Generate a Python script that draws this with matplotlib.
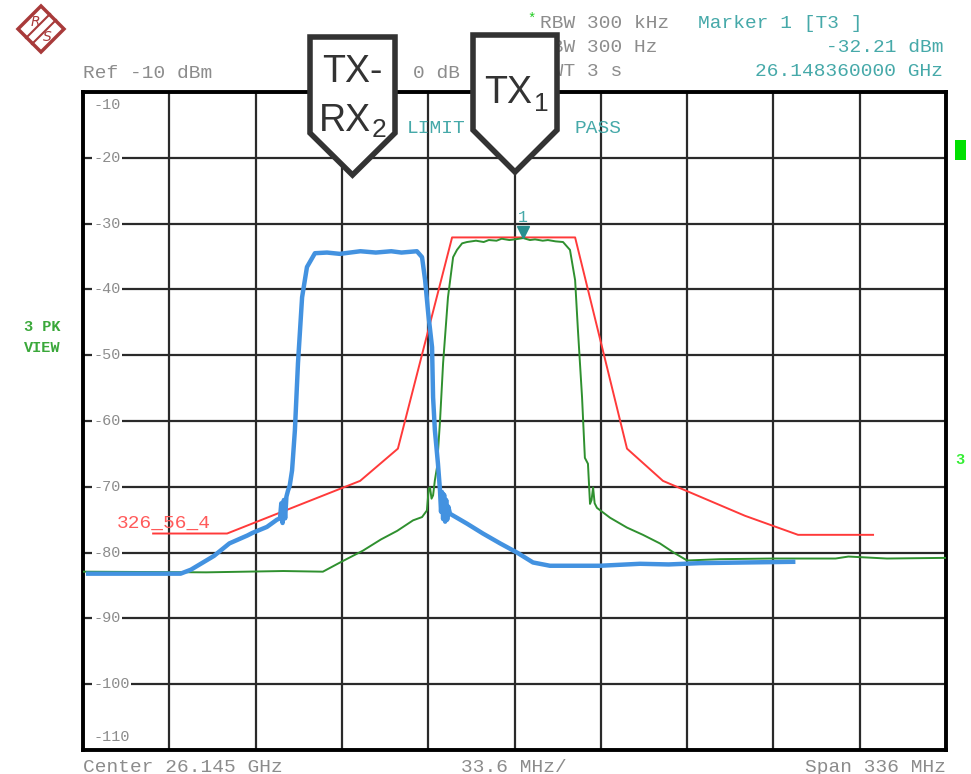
import matplotlib
matplotlib.use("Agg")
import matplotlib.pyplot as plt
from matplotlib.patches import Polygon

# ---------------- data (frequency offset from centre in MHz, level in dBm) ----------------
center_ghz = 26.145
span_mhz = 336.0
ref_level = -10
y_bottom = -110
y_ticks = [-10, -20, -30, -40, -50, -60, -70, -80, -90, -100, -110]

# limit line "326_56_4"
limit_f = [-140.7, -111.9, -60.1, -45.4, -24.3, 23.6, 43.8, 57.8, 89.7, 110.4, 139.6]
limit_db = [-77.1, -77.1, -69.1, -64.2, -32.1, -32.1, -64.2, -69.1, -74.4, -77.3, -77.3]

# trace 3 (green, TX1)
tx1_f = [-168, -120, -90, -74.6, -67.9, -59.0, -52, -45.7, -39.5, -36, -34.1, -33.4, -32.9,
         -32.3, -31.7, -31.0, -30.2, -29.0, -27.8, -25.9, -23.9, -22.4, -20.4, -18.5, -15,
         -12, -10, -7, -5, -2, 0, 3.4, 6, 8, 11, 13, 16, 18.9, 21.6, 23.6, 24.7, 26.3,
         27.4, 28.6, 29.4, 30.0, 30.6, 31.2, 32.1, 37.2, 43.8, 50, 56.6, 62, 67.2, 80,
         100, 125, 130, 145, 168]
tx1_db = [-82.9, -83.0, -82.8, -82.9, -81.5, -79.7, -78.0, -76.7, -75.1, -74.6, -73.6, -70.3,
          -70.1, -71.8, -71.3, -69.0, -67.1, -60.0, -51.2, -41.2, -35.1, -34.0, -33.0, -32.8,
          -32.6, -32.8, -32.5, -32.6, -32.3, -32.5, -32.4, -32.2, -32.5, -32.4, -32.6, -32.5,
          -32.7, -32.8, -34.0, -38.6, -46.2, -56.4, -65.6, -66.5, -72.6, -72.0, -70.1, -72.5,
          -73.2, -74.7, -76.2, -77.3, -78.6, -80.0, -81.2, -81.0, -80.9, -80.9, -80.6, -80.9,
          -80.8]

# TX-RX2 (blue)
rx2_f = [-166, -130, -126, -117, -111, -104, -102, -96.4, -92.5, -91.3, -90.8, -90.3, -89.8,
         -89.3, -88.8, -88.2, -87.5, -86.6, -85.5, -84.3, -82.7, -80.8, -77.7, -73.0, -68,
         -60, -54, -48, -44, -38.0, -36.0, -34.8, -33.6, -32.1, -31.7, -31.0, -29.8, -29.0,
         -28.6, -28.2, -27.8, -27.4, -27.0, -26.6, -26.2, -25.8, -25.1, -18.5, -12.3, -5.6,
         1.0, 7.2, 13.8, 33.3, 48.9, 60, 72.2, 90, 108.5]
rx2_db = [-83.2, -83.2, -82.6, -80.5, -78.6, -77.4, -77.0, -76.1, -75.0, -74.8, -72.5, -75.5,
          -72.0, -74.8, -71.5, -70.6, -69.8, -67.5, -61.4, -51.2, -41.2, -36.6, -34.5, -34.4,
          -34.6, -34.2, -34.4, -34.2, -34.4, -34.2, -35.1, -38.6, -43.6, -48.8, -56.4, -61.4,
          -66.5, -70.6, -73.8, -70.8, -74.9, -71.2, -75.3, -72.0, -75.0, -73.0, -74.1, -75.6,
          -77.1, -78.6, -80.0, -81.5, -82.0, -82.0, -81.7, -81.8, -81.6, -81.5, -81.4]

marker_ghz = 26.14836
marker_dbm = -32.21

# ---------------- figure ----------------
W, H = 971, 774
fig = plt.figure(figsize=(W / 100, H / 100), dpi=100)
fig.patch.set_facecolor("white")

def fx(x):
    return x / W

def fy(y):
    return 1 - y / H

ax = fig.add_axes([fx(83), fy(750), (946 - 83) / W, (750 - 92) / H])
ax.set_xlim(-span_mhz / 2, span_mhz / 2)
ax.set_ylim(y_bottom, ref_level)
div = span_mhz / 10
ax.set_xticks([-span_mhz / 2 + i * div for i in range(11)])
ax.set_yticks(y_ticks)
ax.tick_params(length=0, labelbottom=False, labelleft=False)
ax.grid(True, color="#2a2a2a", linewidth=1.6)
ax.set_axisbelow(True)
for s in ax.spines.values():
    s.set_linewidth(2.8)
    s.set_color("black")

mono = "Liberation Mono"
gray = "#8c8c8c"
teal = "#46a9a9"

# y labels inside plot
for v in y_ticks:
    yv = v
    if v == -10:
        yv = -12.0
    elif v == -110:
        yv = -108.0
    ax.text(0.0116, (yv - y_bottom) / (ref_level - y_bottom), "%d" % v, transform=ax.transAxes,
            ha="left", va="center", fontsize=11, family=mono, color=gray, zorder=3,
            bbox=dict(facecolor="white", edgecolor="none", pad=1.0))

# traces
ax.plot(limit_f, limit_db, color="#ff3a3a", linewidth=1.4, zorder=4)
ax.plot(tx1_f, tx1_db, color="#2f902f", linewidth=1.4, zorder=5)
ax.plot(rx2_f, rx2_db, color="#4392e0", linewidth=3.2, zorder=6, solid_joinstyle="round")

ax.text(-154.8, -75.6, "326_56_4", color="#ff5a5a", fontsize=14, family=mono,
        ha="left", va="center", zorder=3)

mf = (marker_ghz - center_ghz) * 1000
ax.plot([mf], [marker_dbm + 0.9], marker="v", color="#2a8f8f", markersize=9, zorder=7,
        linestyle="none")
ax.text(mf, -29.0, "1", color=teal, fontsize=12, family=mono, ha="center", va="center", zorder=7)

ax.text(0.3754, 0.945, "LIMIT", transform=ax.transAxes, color=teal, fontsize=14,
        family=mono, ha="left", va="center")
ax.text(0.570, 0.945, "PASS", transform=ax.transAxes, color=teal, fontsize=14,
        family=mono, ha="left", va="center")

# header texts
fig.text(fx(83), fy(73), "Ref -10 dBm", color=gray, fontsize=14, family=mono, ha="left", va="center")
fig.text(fx(413), fy(73), "0 dB", color=gray, fontsize=14, family=mono, ha="left", va="center")
fig.text(fx(527), fy(19), "*", color="#22cc22", fontsize=10, family=mono, ha="left", va="center")
fig.text(fx(540), fy(23), "RBW 300 kHz", color=gray, fontsize=14, family=mono, ha="left", va="center")
fig.text(fx(540), fy(48), "VBW 300 Hz", color=gray, fontsize=14, family=mono, ha="left", va="center")
fig.text(fx(540), fy(72), "SWT 3 s", color=gray, fontsize=14, family=mono, ha="left", va="center")
fig.text(fx(698), fy(23), "Marker 1 [T3 ]", color=teal, fontsize=14, family=mono, ha="left", va="center")
fig.text(fx(943), fy(48), "%.2f dBm" % marker_dbm, color=teal, fontsize=14, family=mono,
         ha="right", va="center")
fig.text(fx(943), fy(72), "%.9f GHz" % marker_ghz, color=teal, fontsize=14, family=mono,
         ha="right", va="center")

# footer texts
fig.text(fx(83), fy(767), "Center %.3f GHz" % center_ghz, color=gray, fontsize=14, family=mono,
         ha="left", va="center")
fig.text(fx(514), fy(767), "%.1f MHz/" % div, color=gray, fontsize=14, family=mono,
         ha="center", va="center")
fig.text(fx(946), fy(767), "Span %d MHz" % span_mhz, color=gray, fontsize=14, family=mono,
         ha="right", va="center")

# left trace label
fig.text(fx(42), fy(327), "3 PK", color="#3aa83a", fontsize=11, family=mono, weight="bold",
         ha="center", va="center")
fig.text(fx(42), fy(348), "VIEW", color="#3aa83a", fontsize=11, family=mono, weight="bold",
         ha="center", va="center")

# right side markers
fig.add_artist(Polygon([(fx(955), fy(140)), (fx(966), fy(140)), (fx(966), fy(160)), (fx(955), fy(160))],
                       closed=True, facecolor="#00e000", edgecolor="none", transform=fig.transFigure))
fig.text(fx(955), fy(460), "3", color="#33ee33", fontsize=11, family=mono, weight="bold",
         ha="left", va="center")

# R&S logo
logo_c = (41, 29)
r = 23
dia = [(fx(logo_c[0]), fy(logo_c[1] - r)), (fx(logo_c[0] + r), fy(logo_c[1])),
       (fx(logo_c[0]), fy(logo_c[1] + r)), (fx(logo_c[0] - r), fy(logo_c[1]))]
fig.add_artist(Polygon(dia, closed=True, facecolor="white", edgecolor="#a83a3a", linewidth=2.5,
                       transform=fig.transFigure))
for d in (-3, 3):
    fig.add_artist(plt.Line2D([fx(logo_c[0] + 12 + d), fx(logo_c[0] - 12 + d)],
                              [fy(logo_c[1] - 12 + d), fy(logo_c[1] + 12 + d)],
                              color="#a83a3a", linewidth=1.5, transform=fig.transFigure))
fig.text(fx(35), fy(22), "R", color="#a83a3a", fontsize=10, style="italic", ha="center", va="center")
fig.text(fx(47), fy(37), "S", color="#a83a3a", fontsize=10, style="italic", ha="center", va="center")

# callouts
def callout(x0, x1, ytop, yside, ytip):
    xm = (x0 + x1) / 2
    pts = [(fx(x0), fy(ytop)), (fx(x1), fy(ytop)), (fx(x1), fy(yside)), (fx(xm), fy(ytip)),
           (fx(x0), fy(yside))]
    fig.add_artist(Polygon(pts, closed=True, facecolor="white", edgecolor="#333333",
                           linewidth=4.0, joinstyle="miter", transform=fig.transFigure, zorder=10))

callout(310, 395, 37, 133, 175)
callout(473, 557, 35, 130, 172)

sans = "Liberation Sans"
tc = "#333333"
fig.text(fx(352), fy(72), "TX-", color=tc, fontsize=27, family=sans, ha="center", va="center", zorder=11)
fig.text(fx(345), fy(121), "RX", color=tc, fontsize=27, family=sans, ha="center", va="center", zorder=11)
fig.text(fx(379), fy(130), "2", color=tc, fontsize=19, family=sans, ha="center", va="center", zorder=11)
fig.text(fx(508), fy(93), "TX", color=tc, fontsize=27, family=sans, ha="center", va="center", zorder=11)
fig.text(fx(541), fy(104), "1", color=tc, fontsize=19, family=sans, ha="center", va="center", zorder=11)

fig.savefig("out.png", dpi=100)
